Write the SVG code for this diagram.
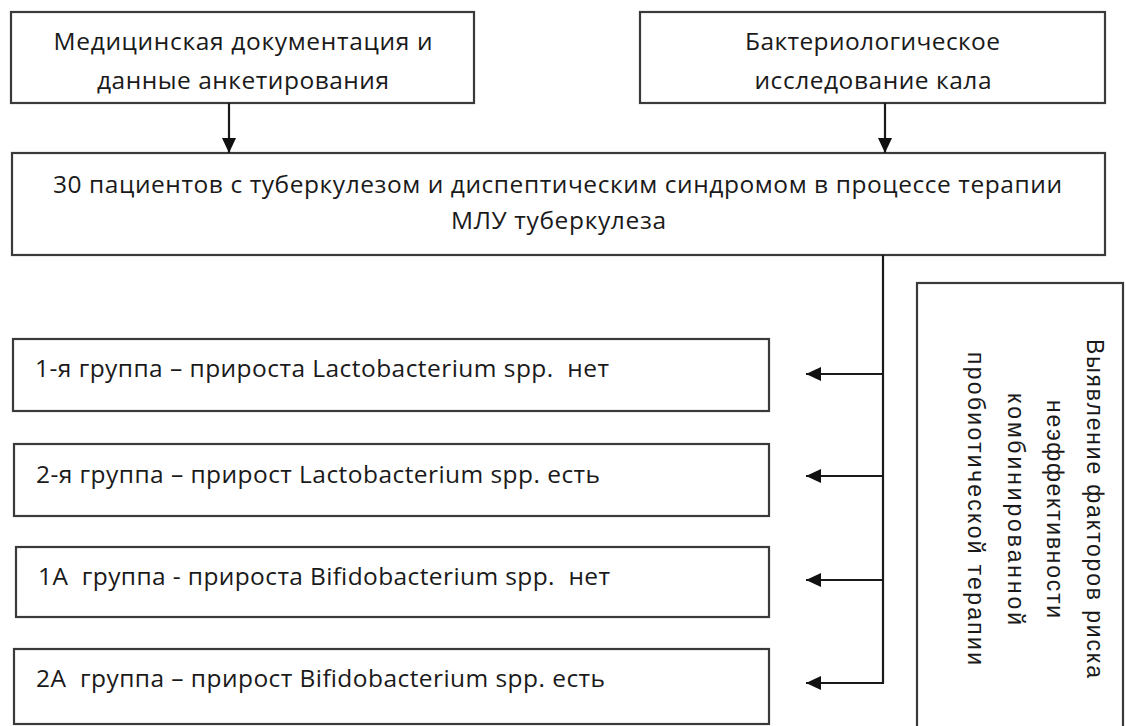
<svg xmlns="http://www.w3.org/2000/svg" width="1126" height="726" viewBox="0 0 1126 726">
<style>
  .box { fill: #ffffff; stroke: #3a3a3a; stroke-width: 2.2; }
  .t { font-family: "Open Sans", "Noto Sans", "Liberation Sans", sans-serif; font-size: 24.5px; fill: #1a1a1a; white-space: pre; }
  .v { font-family: "Liberation Sans", "DejaVu Sans", sans-serif; font-size: 23px; fill: #1a1a1a; text-anchor: middle; }
  .c { text-anchor: middle; }
  .conn { fill: none; stroke: #1a1a1a; stroke-width: 2.2; }
</style>
<defs>
  <marker id="arr" markerUnits="userSpaceOnUse" markerWidth="16" markerHeight="14" refX="15" refY="7" orient="auto">
    <path d="M0,0 L15,7 L0,14 Z" fill="#111"/>
  </marker>
</defs>
<rect width="1126" height="726" fill="#ffffff"/>

<g id="n-med">
  <rect class="box" x="11" y="12" width="463" height="91"/>
  <text class="t c" x="243" y="50" textLength="379">Медицинская документация и</text>
  <text class="t c" x="243" y="89" textLength="292">данные анкетирования</text>
</g>

<g id="n-bact">
  <rect class="box" x="640" y="12" width="465" height="91"/>
  <text class="t c" x="872.5" y="50" textLength="255">Бактериологическое</text>
  <text class="t c" x="873" y="89" textLength="237">исследование кала</text>
</g>

<g id="n-pat">
  <rect class="box" x="12" y="153" width="1093" height="102"/>
  <text class="t c" x="557.5" y="193" textLength="1009">30 пациентов с туберкулезом и диспептическим синдромом в процессе терапии</text>
  <text class="t c" x="558.5" y="229" textLength="215">МЛУ туберкулеза</text>
</g>

<g id="n-g1">
  <rect class="box" x="13" y="339" width="756" height="72"/>
  <text class="t" x="35" y="377" textLength="574" xml:space="preserve">1-я группа – прироста Lactobacterium spp.  нет</text>
</g>

<g id="n-g2">
  <rect class="box" x="14" y="444" width="755" height="72"/>
  <text class="t" x="36" y="483" textLength="564">2-я группа – прирост Lactobacterium spp. есть</text>
</g>

<g id="n-g1a">
  <rect class="box" x="16" y="547" width="753" height="70"/>
  <text class="t" x="38" y="585" textLength="572" xml:space="preserve">1А  группа - прироста Bifidobacterium spp.  нет</text>
</g>

<g id="n-g2a">
  <rect class="box" x="14" y="649" width="755" height="75"/>
  <text class="t" x="36" y="687" textLength="569" xml:space="preserve">2А  группа – прирост Bifidobacterium spp. есть</text>
</g>

<g id="n-risk">
  <rect class="box" x="917" y="283" width="206" height="460"/>
  <text class="v" transform="translate(1087,508.5) rotate(90)" textLength="339">Выявление факторов риска</text>
  <text class="v" transform="translate(1047,509) rotate(90)" textLength="218">неэффективности</text>
  <text class="v" transform="translate(1008,509) rotate(90)" textLength="232">комбинированной</text>
  <text class="v" transform="translate(968,508.5) rotate(90)" textLength="313">пробиотической терапии</text>
</g>

<g id="connectors">
  <line class="conn" x1="229" y1="103" x2="229" y2="153" marker-end="url(#arr)"/>
  <line class="conn" x1="885" y1="103" x2="885" y2="153" marker-end="url(#arr)"/>
  <polyline class="conn" points="883,255 883,683"/>
  <line class="conn" x1="883" y1="374" x2="806" y2="374" marker-end="url(#arr)"/>
  <line class="conn" x1="883" y1="476" x2="806" y2="476" marker-end="url(#arr)"/>
  <line class="conn" x1="883" y1="580" x2="806" y2="580" marker-end="url(#arr)"/>
  <line class="conn" x1="884" y1="683" x2="806" y2="683" marker-end="url(#arr)"/>
</g>
</svg>
